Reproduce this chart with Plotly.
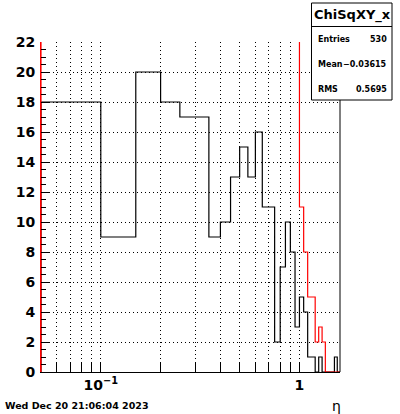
import numpy as np
import plotly.graph_objects as go

# ---- data ----
bin_width = 0.05
x_first_edge = 0.05
black_counts = [18, 9, 20, 18, 17, 17, 9, 10, 13, 15, 13, 16, 11, 11, 2, 7, 10, 8, 3, 5,
                4, 1, 1, 0, 1, 0, 0, 0, 0, 1, 0]
red_counts = [30] * 19 + [11, 8, 5, 5, 2, 3, 2, 0, 0, 0, 0, 0]
x_tick_vals = [0.06, 0.07, 0.08, 0.09, 0.1, 0.2, 0.3, 0.4, 0.5, 0.6, 0.7, 0.8, 0.9, 1.0]
x_tick_text = {0.1: "10<sup>\u22121</sup>", 1.0: "1"}
y_tick_vals = list(range(0, 23, 2))
stat_title = "ChiSqXY_x"
stat_rows = [("Entries", "530"), ("Mean", "\u22120.03615"), ("RMS", "0.5695")]
date_text = "Wed Dec 20 21:06:04 2023"
x_title = "\u03b7"

# ---- geometry ----
W, H = 400, 414
L, R, T, B = 41, 340, 42, 372


def px(x):
    return (x - L) / (R - L)


def py(y):
    return (B - y) / (B - T)


def step_xy(counts):
    edges = np.round(x_first_edge + bin_width * np.arange(len(counts) + 1), 4)
    xs = [edges[0]] + list(edges) + [edges[-1]]
    ys = [0] + list(counts) + [counts[-1], 0]
    return xs, ys


fig = go.Figure()
bx, by = step_xy(black_counts)
fig.add_trace(go.Scatter(x=bx, y=by, mode="lines", line=dict(color="black", width=1.2, shape="hv"),
                         showlegend=False, hoverinfo="skip"))
rx, ry = step_xy(red_counts)
fig.add_trace(go.Scatter(x=rx, y=ry, mode="lines", line=dict(color="red", width=1.2, shape="hv"),
                         showlegend=False, hoverinfo="skip"))

tickfont = dict(family="DejaVu Sans", size=14, color="black", weight="bold")
grid_dash = "1px,3px"

fig.update_layout(
    width=W, height=H,
    margin=dict(l=L, r=W - R, t=T, b=H - B, pad=0),
    paper_bgcolor="white", plot_bgcolor="white",
    xaxis=dict(
        type="log", range=[np.log10(0.05), np.log10(1.6)],
        tickmode="array", tickvals=x_tick_vals,
        ticktext=[x_tick_text.get(v, "") for v in x_tick_vals],
        ticks="inside", ticklen=9, tickcolor="black", tickwidth=1,
        showgrid=True, gridcolor="black", griddash=grid_dash, gridwidth=1,
        showline=True, linecolor="black", linewidth=1, zeroline=False,
        tickfont=tickfont,
    ),
    yaxis=dict(
        range=[0, 22], tickmode="array", tickvals=y_tick_vals,
        ticks="inside", ticklen=9, tickcolor="black", tickwidth=1,
        minor=dict(dtick=0.5, tick0=0, ticks="inside", ticklen=5, tickcolor="black",
                   tickwidth=1, showgrid=False),
        showgrid=True, gridcolor="black", griddash=grid_dash, gridwidth=1,
        showline=True, linecolor="red", linewidth=1, zeroline=False,
        tickfont=tickfont, ticklabelstandoff=2,
    ),
)

shapes = [
    dict(type="line", xref="paper", yref="paper", x0=1, x1=1, y0=0, y1=1,
         line=dict(color="black", width=1)),
    dict(type="rect", xref="paper", yref="paper", x0=px(311.5), x1=px(392), y0=py(100), y1=py(3),
         line=dict(color="black", width=1), fillcolor="white"),
    dict(type="line", xref="paper", yref="paper", x0=px(311.5), x1=px(392), y0=py(26.5), y1=py(26.5),
         line=dict(color="black", width=1)),
]
fig.update_layout(shapes=shapes)

ann = []
ann.append(dict(text=f"<b>{stat_title}</b>", x=px(352), y=py(15), xref="paper", yref="paper",
                xanchor="center", yanchor="middle", showarrow=False,
                font=dict(family="DejaVu Sans", size=13, color="black")))
for (lab, val), yy in zip(stat_rows, [40, 64, 89]):
    ann.append(dict(text=f"<b>{lab}</b>", x=px(316), y=py(yy), xref="paper", yref="paper",
                    xanchor="left", yanchor="middle", showarrow=False,
                    font=dict(family="DejaVu Sans", size=8, color="black")))
    ann.append(dict(text=f"<b>{val}</b>", x=px(389), y=py(yy), xref="paper", yref="paper",
                    xanchor="right", yanchor="middle", showarrow=False,
                    font=dict(family="DejaVu Sans", size=8, color="black")))
ann.append(dict(text=f"<b>{date_text}</b>", x=px(3), y=py(405), xref="paper", yref="paper",
                xanchor="left", yanchor="middle", showarrow=False,
                font=dict(family="DejaVu Sans", size=9.5, color="black")))
ann.append(dict(text=x_title, x=px(336), y=py(406), xref="paper", yref="paper",
                xanchor="center", yanchor="middle", showarrow=False,
                font=dict(family="DejaVu Sans", size=14, color="black")))
fig.update_layout(annotations=ann)

fig.write_html("out.html", config={"displayModeBar": False},
               post_script="document.body.style.margin='0px';document.body.style.padding='0px';")
